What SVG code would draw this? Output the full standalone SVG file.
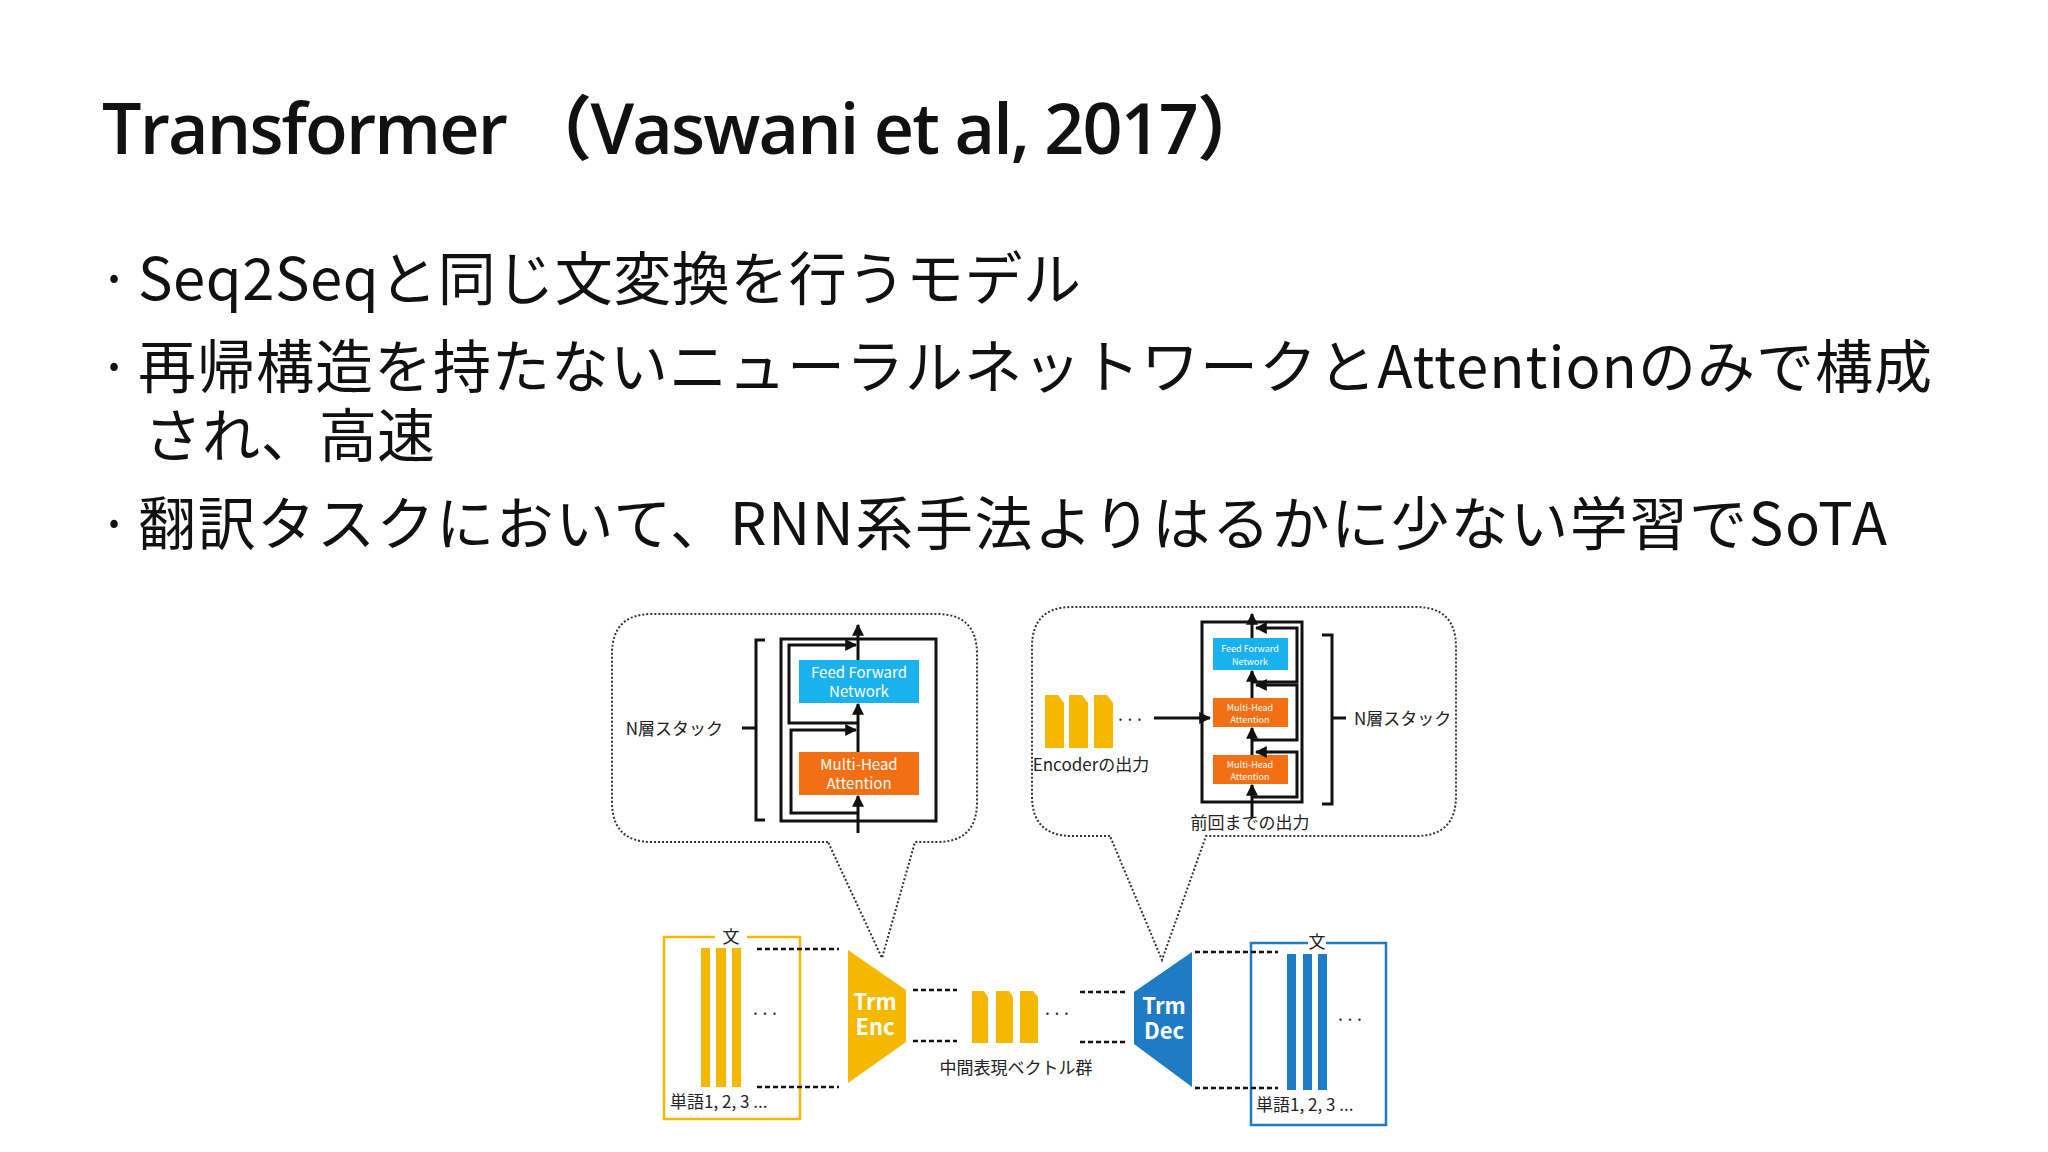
<svg xmlns="http://www.w3.org/2000/svg" width="2048" height="1152" viewBox="0 0 2048 1152">
<style>
.t{font-family:"Noto Sans CJK JP","Noto Sans",sans-serif}
.s{font-family:"Noto Sans CJK JP","Noto Sans",sans-serif;font-size:17px;fill:#222}
.w{font-family:"Noto Sans CJK JP","Noto Sans",sans-serif;fill:#fff;text-anchor:middle}
.ln{stroke:#111;stroke-width:3;fill:none}
.dl{stroke:#111;stroke-width:2.5;stroke-dasharray:5 3;fill:none}
.bub{stroke:#333;stroke-width:2;stroke-dasharray:2 2;fill:none}
.y{fill:#F5B800}.b{fill:#1F7BC4}.o{fill:#F36F13}.c{fill:#19B1EE}
</style>
<defs><marker id="a" viewBox="0 0 10 10" refX="9" refY="5" markerWidth="4" markerHeight="4" orient="auto"><path d="M0,0L10,5L0,10z" fill="#111"/></marker></defs>
<rect width="2048" height="1152" fill="#fff"/>
<g id="title"><text x="102" y="154" font-family="'Open Sans','Noto Sans CJK JP',sans-serif" font-size="70" font-weight="600" textLength="1165" lengthAdjust="spacing" fill="#111">Transformer （Vaswani et al, 2017）</text></g>
<g id="bullets" class="t" font-size="58" fill="#111">
<text x="98" y="300">·</text><text x="138" y="300" textLength="943">Seq2Seqと同じ文変換を行うモデル</text>
<text x="98" y="388">·</text><text x="138" y="388" textLength="1794">再帰構造を持たないニューラルネットワークとAttentionのみで構成</text>
<text x="144" y="457" textLength="291">され、高速</text>
<text x="98" y="545">·</text><text x="138" y="545" textLength="1749">翻訳タスクにおいて、RNN系手法よりはるかに少ない学習でSoTA</text>
</g>
<g id="enc-bubble">
<path class="bub" d="M828,842 H652 Q612,842 612,802 V654 Q612,614 652,614 H937 Q977,614 977,654 V802 Q977,842 937,842 H915 L882,958 Z"/>
<rect x="781" y="639" width="155" height="182" class="ln"/>
<rect x="799" y="660" width="120" height="43" class="c"/>
<text class="w" x="859" y="678" font-size="15">Feed Forward</text><text class="w" x="859" y="697" font-size="15">Network</text>
<rect x="799" y="752" width="120" height="43" class="o"/>
<text class="w" x="859" y="770" font-size="15">Multi-Head</text><text class="w" x="859" y="789" font-size="15">Attention</text>
<line x1="858" y1="833" x2="858" y2="796" class="ln" marker-end="url(#a)"/>
<line x1="858" y1="752" x2="858" y2="704" class="ln" marker-end="url(#a)"/>
<line x1="858" y1="660" x2="858" y2="625" class="ln" marker-end="url(#a)"/>
<path d="M858,813 H791 V730 H856" class="ln" marker-end="url(#a)"/>
<path d="M858,723 H789 V645 H856" class="ln" marker-end="url(#a)"/>
<path d="M765,640 H756 V820 H765 M756,728 H742" class="ln" stroke-width="2"/>
<text class="s" x="723" y="735" text-anchor="end" font-size="19">N層スタック</text>
</g>
<g id="dec-bubble">
<path class="bub" d="M1110,836 H1072 Q1032,836 1032,796 V647 Q1032,607 1072,607 H1416 Q1456,607 1456,647 V796 Q1456,836 1416,836 H1206 L1162,960 Z"/>
<rect x="1202" y="622" width="100" height="180" class="ln"/>
<rect x="1213" y="638" width="75" height="32" class="c"/>
<text class="w" x="1250" y="652" font-size="9">Feed Forward</text><text class="w" x="1250" y="665" font-size="9">Network</text>
<rect x="1213" y="698" width="75" height="29" class="o"/>
<text class="w" x="1250" y="711" font-size="9">Multi-Head</text><text class="w" x="1250" y="723" font-size="9">Attention</text>
<rect x="1213" y="755" width="75" height="29" class="o"/>
<text class="w" x="1250" y="768" font-size="9">Multi-Head</text><text class="w" x="1250" y="780" font-size="9">Attention</text>
<line x1="1252" y1="817" x2="1252" y2="785" class="ln" stroke-width="2.5" marker-end="url(#a)"/>
<line x1="1252" y1="755" x2="1252" y2="728" class="ln" stroke-width="2.5" marker-end="url(#a)"/>
<line x1="1252" y1="698" x2="1252" y2="671" class="ln" stroke-width="2.5" marker-end="url(#a)"/>
<line x1="1252" y1="638" x2="1252" y2="614" class="ln" stroke-width="2.5" marker-end="url(#a)"/>
<path d="M1252,797 H1297 V752 H1256" class="ln" stroke-width="2.5" marker-end="url(#a)"/>
<path d="M1252,740 H1297 V685 H1256" class="ln" stroke-width="2.5" marker-end="url(#a)"/>
<path d="M1252,682 H1297 V628 H1256" class="ln" stroke-width="2.5" marker-end="url(#a)"/>
<path d="M1045,695 h13 l6,8 v45 h-19z M1069,695 h13 l6,8 v45 h-19z M1094,695 h13 l6,8 v45 h-19z" class="y"/>
<text class="s" x="1130" y="726" text-anchor="middle" font-size="20">···</text>
<line x1="1154" y1="718" x2="1210" y2="718" class="ln" stroke-width="2.5" marker-end="url(#a)"/>
<text class="s" x="1091" y="771" text-anchor="middle" font-size="11">Encoderの出力</text>
<path d="M1322,635 H1332 V804 H1322 M1332,718 H1346" class="ln" stroke-width="2"/>
<text class="s" x="1354" y="725" font-size="19">N層スタック</text>
<text class="s" x="1250" y="829" text-anchor="middle" font-size="11">前回までの出力</text>
</g>
<g id="input">
<path d="M715,937 H664 V1119 H800 V937 H747" fill="none" stroke="#F5B800" stroke-width="2.5"/>
<text class="s" x="731" y="943" text-anchor="middle" font-size="13">文</text>
<rect x="701" y="948" width="9" height="139" class="y"/><rect x="716" y="948" width="10" height="139" class="y"/><rect x="732" y="948" width="9" height="139" class="y"/>
<text class="s" x="765" y="1020" text-anchor="middle" font-size="20">···</text>
<text class="s" x="670" y="1108" font-size="12">単語1, 2, 3 ...</text>
</g>
<g id="enc"><path d="M848,950 L906,990 V1042 L848,1083Z" class="y"/>
<text class="w" x="875" y="1010" font-size="22" font-weight="bold">Trm</text><text class="w" x="875" y="1035" font-size="22" font-weight="bold">Enc</text></g>
<g id="mid">
<path d="M972,991 h12 l4,6 v46 h-16z M996,991 h13 l4,6 v46 h-17z M1020,991 h13 l5,6 v46 h-18z" class="y"/>
<text class="s" x="1057" y="1020" text-anchor="middle" font-size="20">···</text>
<text class="s" x="1016" y="1074" text-anchor="middle" font-size="13">中間表現ベクトル群</text>
</g>
<g id="dec"><path d="M1192,952 V1087 L1134,1044 V992Z" class="b"/>
<text class="w" x="1164" y="1014" font-size="22" font-weight="bold">Trm</text><text class="w" x="1164" y="1039" font-size="22" font-weight="bold">Dec</text></g>
<g id="output">
<path d="M1308,943 H1251 V1125 H1386 V943 H1326" fill="none" stroke="#1F7BC4" stroke-width="2.5"/>
<text class="s" x="1317" y="948" text-anchor="middle" font-size="13">文</text>
<rect x="1287" y="954" width="9" height="136" class="b"/><rect x="1303" y="954" width="9" height="136" class="b"/><rect x="1318" y="954" width="9" height="136" class="b"/>
<text class="s" x="1350" y="1026" text-anchor="middle" font-size="20">···</text>
<text class="s" x="1256" y="1111" font-size="12">単語1, 2, 3 ...</text>
</g>
<g id="connectors">
<line x1="757" y1="949" x2="839" y2="949" class="dl"/><line x1="757" y1="1087" x2="839" y2="1087" class="dl"/>
<line x1="913" y1="990" x2="957" y2="990" class="dl"/><line x1="913" y1="1041" x2="957" y2="1041" class="dl"/>
<line x1="1080" y1="992" x2="1125" y2="992" class="dl"/><line x1="1080" y1="1042" x2="1125" y2="1042" class="dl"/>
<line x1="1195" y1="952" x2="1278" y2="952" class="dl"/><line x1="1195" y1="1088" x2="1278" y2="1088" class="dl"/>
</g>
</svg>
